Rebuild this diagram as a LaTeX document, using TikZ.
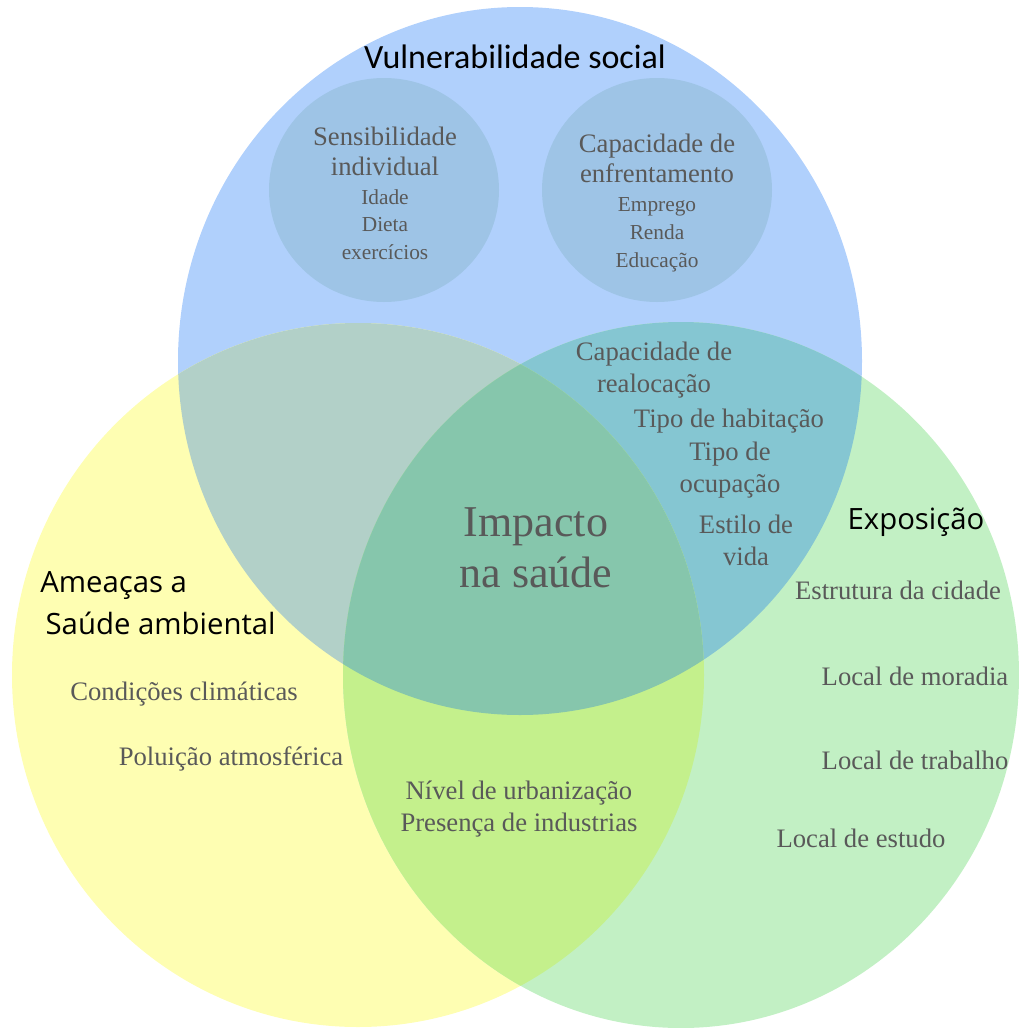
\documentclass[tikz,border=0pt]{standalone}
\usepackage{fontspec}
\setmainfont{Liberation Serif}
\newfontfamily\headfont{Open Sans}
\newfontfamily\vulnfont{Carlito}
\usetikzlibrary{positioning}

\definecolor{cvuln}{RGB}{176,208,252}
\definecolor{csub}{RGB}{158,196,230}
\definecolor{camea}{RGB}{254,254,178}
\definecolor{cexpo}{RGB}{194,240,196}
\definecolor{cvulnamea}{RGB}{178,208,200}
\definecolor{cvulnexpo}{RGB}{133,198,210}
\definecolor{cameaexpo}{RGB}{196,240,140}
\definecolor{call}{RGB}{134,198,172}
\definecolor{txtgray}{RGB}{89,89,89}

% the three sets
\newcommand\vulnset{(520,361) ellipse [x radius=342, y radius=354]}
\newcommand\ameaset{(358,675) ellipse [x radius=346, y radius=352]}
\newcommand\exposet{(681,675) ellipse [x radius=338, y radius=353]}

\tikzset{every node/.style={text=txtgray,align=center,inner sep=0pt},
  head/.style={text=black,font=\headfont\fontsize{22}{32}\selectfont},
  sub/.style={font=\fontsize{20}{22.5}\selectfont},
  subitem/.style={font=\fontsize{16}{20.8}\selectfont},
  item/.style={font=\fontsize{20}{24}\selectfont}}

\begin{document}
\begin{tikzpicture}[x=0.75pt,y=-0.75pt]
    \useasboundingbox (0,0) rectangle (1019,1028);
    \fill[cvuln] \vulnset;
    \fill[camea] \ameaset;
    \fill[cexpo] \exposet;
    \begin{scope}
        \clip \vulnset;
        \fill[cvulnamea] \ameaset;
        \fill[cvulnexpo] \exposet;
    \end{scope}
    \begin{scope}
        \clip \ameaset;
        \fill[cameaexpo] \exposet;
        \clip \exposet;
        \fill[call] \vulnset;
    \end{scope}
    \fill[csub] (384,190) ellipse [x radius=115, y radius=112];
    \fill[csub] (657,190) ellipse [x radius=115, y radius=112];

    \node[text=black,font=\vulnfont\fontsize{25.5}{28}\selectfont] (vuln) at (515,57) {Vulnerabilidade social};
    \node[head,align=left,anchor=west] (amea) at (40,603) {Ameaças a\\ \hspace*{4pt}Saúde ambiental};
    \node[head] (expo) at (916,522) {Exposição};

    \node[sub] (sens) at (385,151) {Sensibilidade\\individual};
    \node[subitem] (sensitems) [below=10pt of sens] {Idade\\Dieta\\exercícios};
    \node[sub] (enfr) at (657,158) {Capacidade de\\enfrentamento};
    \node[subitem] (enfritems) [below=11pt of enfr] {Emprego\\Renda\\Educação};

    \node[font=\fontsize{33}{38}\selectfont] (impacto) at (536,548) {Impacto\\na saúde};

    \node[item] (realoc) at (654,370) {Capacidade de\\realocação};
    \node[item] (habit) at (729,421) {Tipo de habitação};
    \node[item] (ocup) at (730,470) {Tipo de\\ocupação};
    \node[item] (estilo) at (746,540) {Estilo de\\vida};

    \node[item] (clima) at (184,694) {Condições climáticas};
    \node[item] (poluicao) at (231,759) {Poluição atmosférica};
    \node[item] (urban) at (519,809) {Nível de urbanização\\Presença de industrias};

    \node[item] (estrut) at (898,590) {Estrutura da cidade};
    \node[item] (moradia) at (915,676) {Local de moradia};
    \node[item] (trabalho) at (915,760) {Local de trabalho};
    \node[item] (estudo) at (861,838) {Local de estudo};
\end{tikzpicture}
\end{document}
